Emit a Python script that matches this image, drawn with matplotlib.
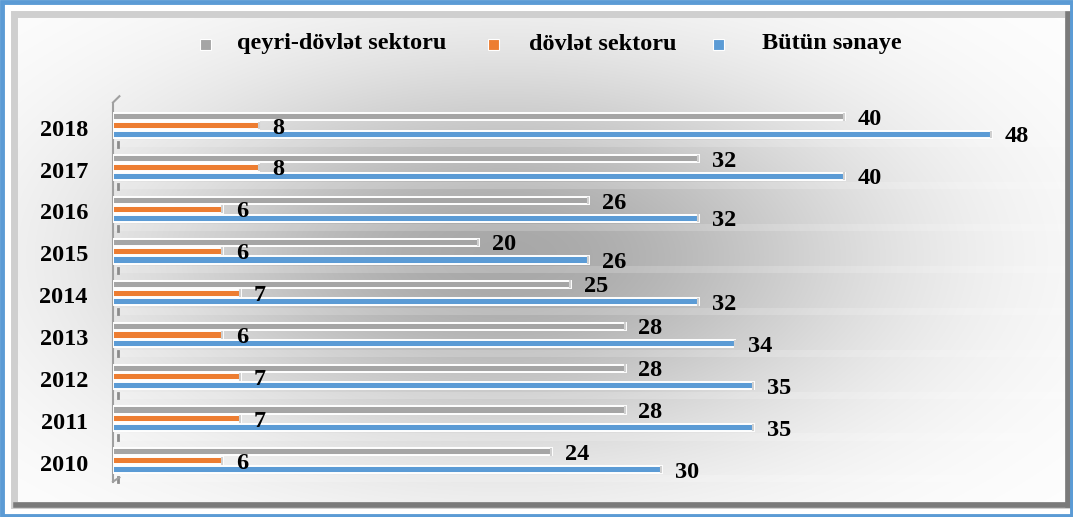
import numpy as np
import matplotlib
matplotlib.use("Agg")
import matplotlib.pyplot as plt
from matplotlib.patches import Rectangle

# data
years = ["2010", "2011", "2012", "2013", "2014", "2015", "2016", "2017", "2018"]
qeyri = [24, 28, 28, 28, 25, 20, 26, 32, 40]
dovlet = [6, 7, 7, 6, 7, 6, 6, 8, 8]
butun = [30, 35, 35, 34, 32, 26, 32, 40, 48]
series_names = ["qeyri-dövlət sektoru", "dövlət sektoru", "Bütün sənaye"]
colors = ["#a5a5a5", "#ed7d31", "#5b9bd5"]

plt.rcParams['font.family'] = ['Liberation Serif', 'DejaVu Serif']
plt.rcParams['font.weight'] = 'bold'

W, H = 1073, 517
fig = plt.figure(figsize=(W / 100, H / 100), dpi=100, facecolor="white")

# background: radial grey gradient inside the frame
bg = fig.add_axes([0, 0, 1, 1])
bg.set_xlim(0, W)
bg.set_ylim(H, 0)
bg.axis("off")
yy, xx = np.mgrid[0:H, 0:W]
r2 = ((xx - 500) / 560.0) ** 2 + ((yy - 255) / 300.0) ** 2
shade = 1 - 0.34 * np.exp(-r2 / 0.45)
img = np.dstack([shade, shade, shade])
bg.imshow(img, extent=(14, 1068, 505, 14), zorder=0, aspect="auto", interpolation="bilinear")
# bevel frame
bg.add_patch(Rectangle((14, 14), 1054, 491, fill=False, ec="#cfcfcf", lw=5, zorder=2))
bg.plot([16, 1068], [505, 505], color="#7a7a7a", lw=4, zorder=3)
bg.plot([1068, 1068], [14, 505], color="#7a7a7a", lw=4, zorder=3)
# outer blue border
bg.add_patch(Rectangle((1.5, 1.5), W - 3, H - 3, fill=False, ec="#5b9bd5", lw=3.5, zorder=4))

# legend, drawn by hand
leg_marker_x = [205, 493, 718]
leg_text_x = [237, 529, 762]
leg_y = 44
for name, c, mx, tx in zip(series_names, colors, leg_marker_x, leg_text_x):
    bg.add_patch(Rectangle((mx - 5.5, leg_y - 5.5), 11, 11, fc=c, ec="white", lw=0.8, zorder=5))
    bg.text(tx, leg_y, name, fontsize=17.5, fontweight="bold", va="center", ha="left", zorder=5)

# main bar axes
ax = fig.add_axes([113 / W, 1 - 485 / H, 952 / W, 385 / H])
ax.patch.set_alpha(0)
ax.set_xlim(0, 52)
ax.set_ylim(-0.53, 8.66)
for s in ax.spines.values():
    s.set_visible(False)
ax.set_xticks([])

y = np.arange(len(years))
h = 0.17
offsets = [0.26, 0.05, -0.16]

# light floor bands between groups
for yi in y:
    ax.add_patch(Rectangle((0, yi - 0.47), 52, 0.17, fc="white", alpha=0.18, ec="none", zorder=1))
    ax.plot([0.3, 0.3], [yi - 0.46, yi - 0.34], color="#8c8c8c", lw=2, zorder=2)

for vals, c, off in zip([qeyri, dovlet, butun], colors, offsets):
    ax.barh(y + off, vals, height=h, color=c, edgecolor="white", linewidth=1.4, zorder=3)
    for yi, v in zip(y, vals):
        ax.plot([v - 0.05, v - 0.05], [yi + off - h / 2.5, yi + off + h / 2.5],
                color="#d0d0d0", lw=1.5, zorder=4)
        ax.text(v + 0.7, yi + off - 0.06, str(v), fontsize=17.5, fontweight="bold",
                va="center", ha="left", zorder=5)

ax.set_yticks(y)
ax.set_yticklabels(years, fontsize=17.5, fontweight="bold")
ax.tick_params(axis="y", length=0, pad=18)

# left wall edge with small 3D corners
ax.plot([0, 0], [-0.45, 8.6], color="#a0a0a0", lw=1.5, zorder=2, clip_on=False)
ax.plot([0, 0.35], [8.6, 8.75], color="#a0a0a0", lw=1.5, clip_on=False)
ax.plot([0, 0.35], [-0.45, -0.35], color="#a0a0a0", lw=1.5, clip_on=False)

fig.savefig("out.png", dpi=100, facecolor="white")
